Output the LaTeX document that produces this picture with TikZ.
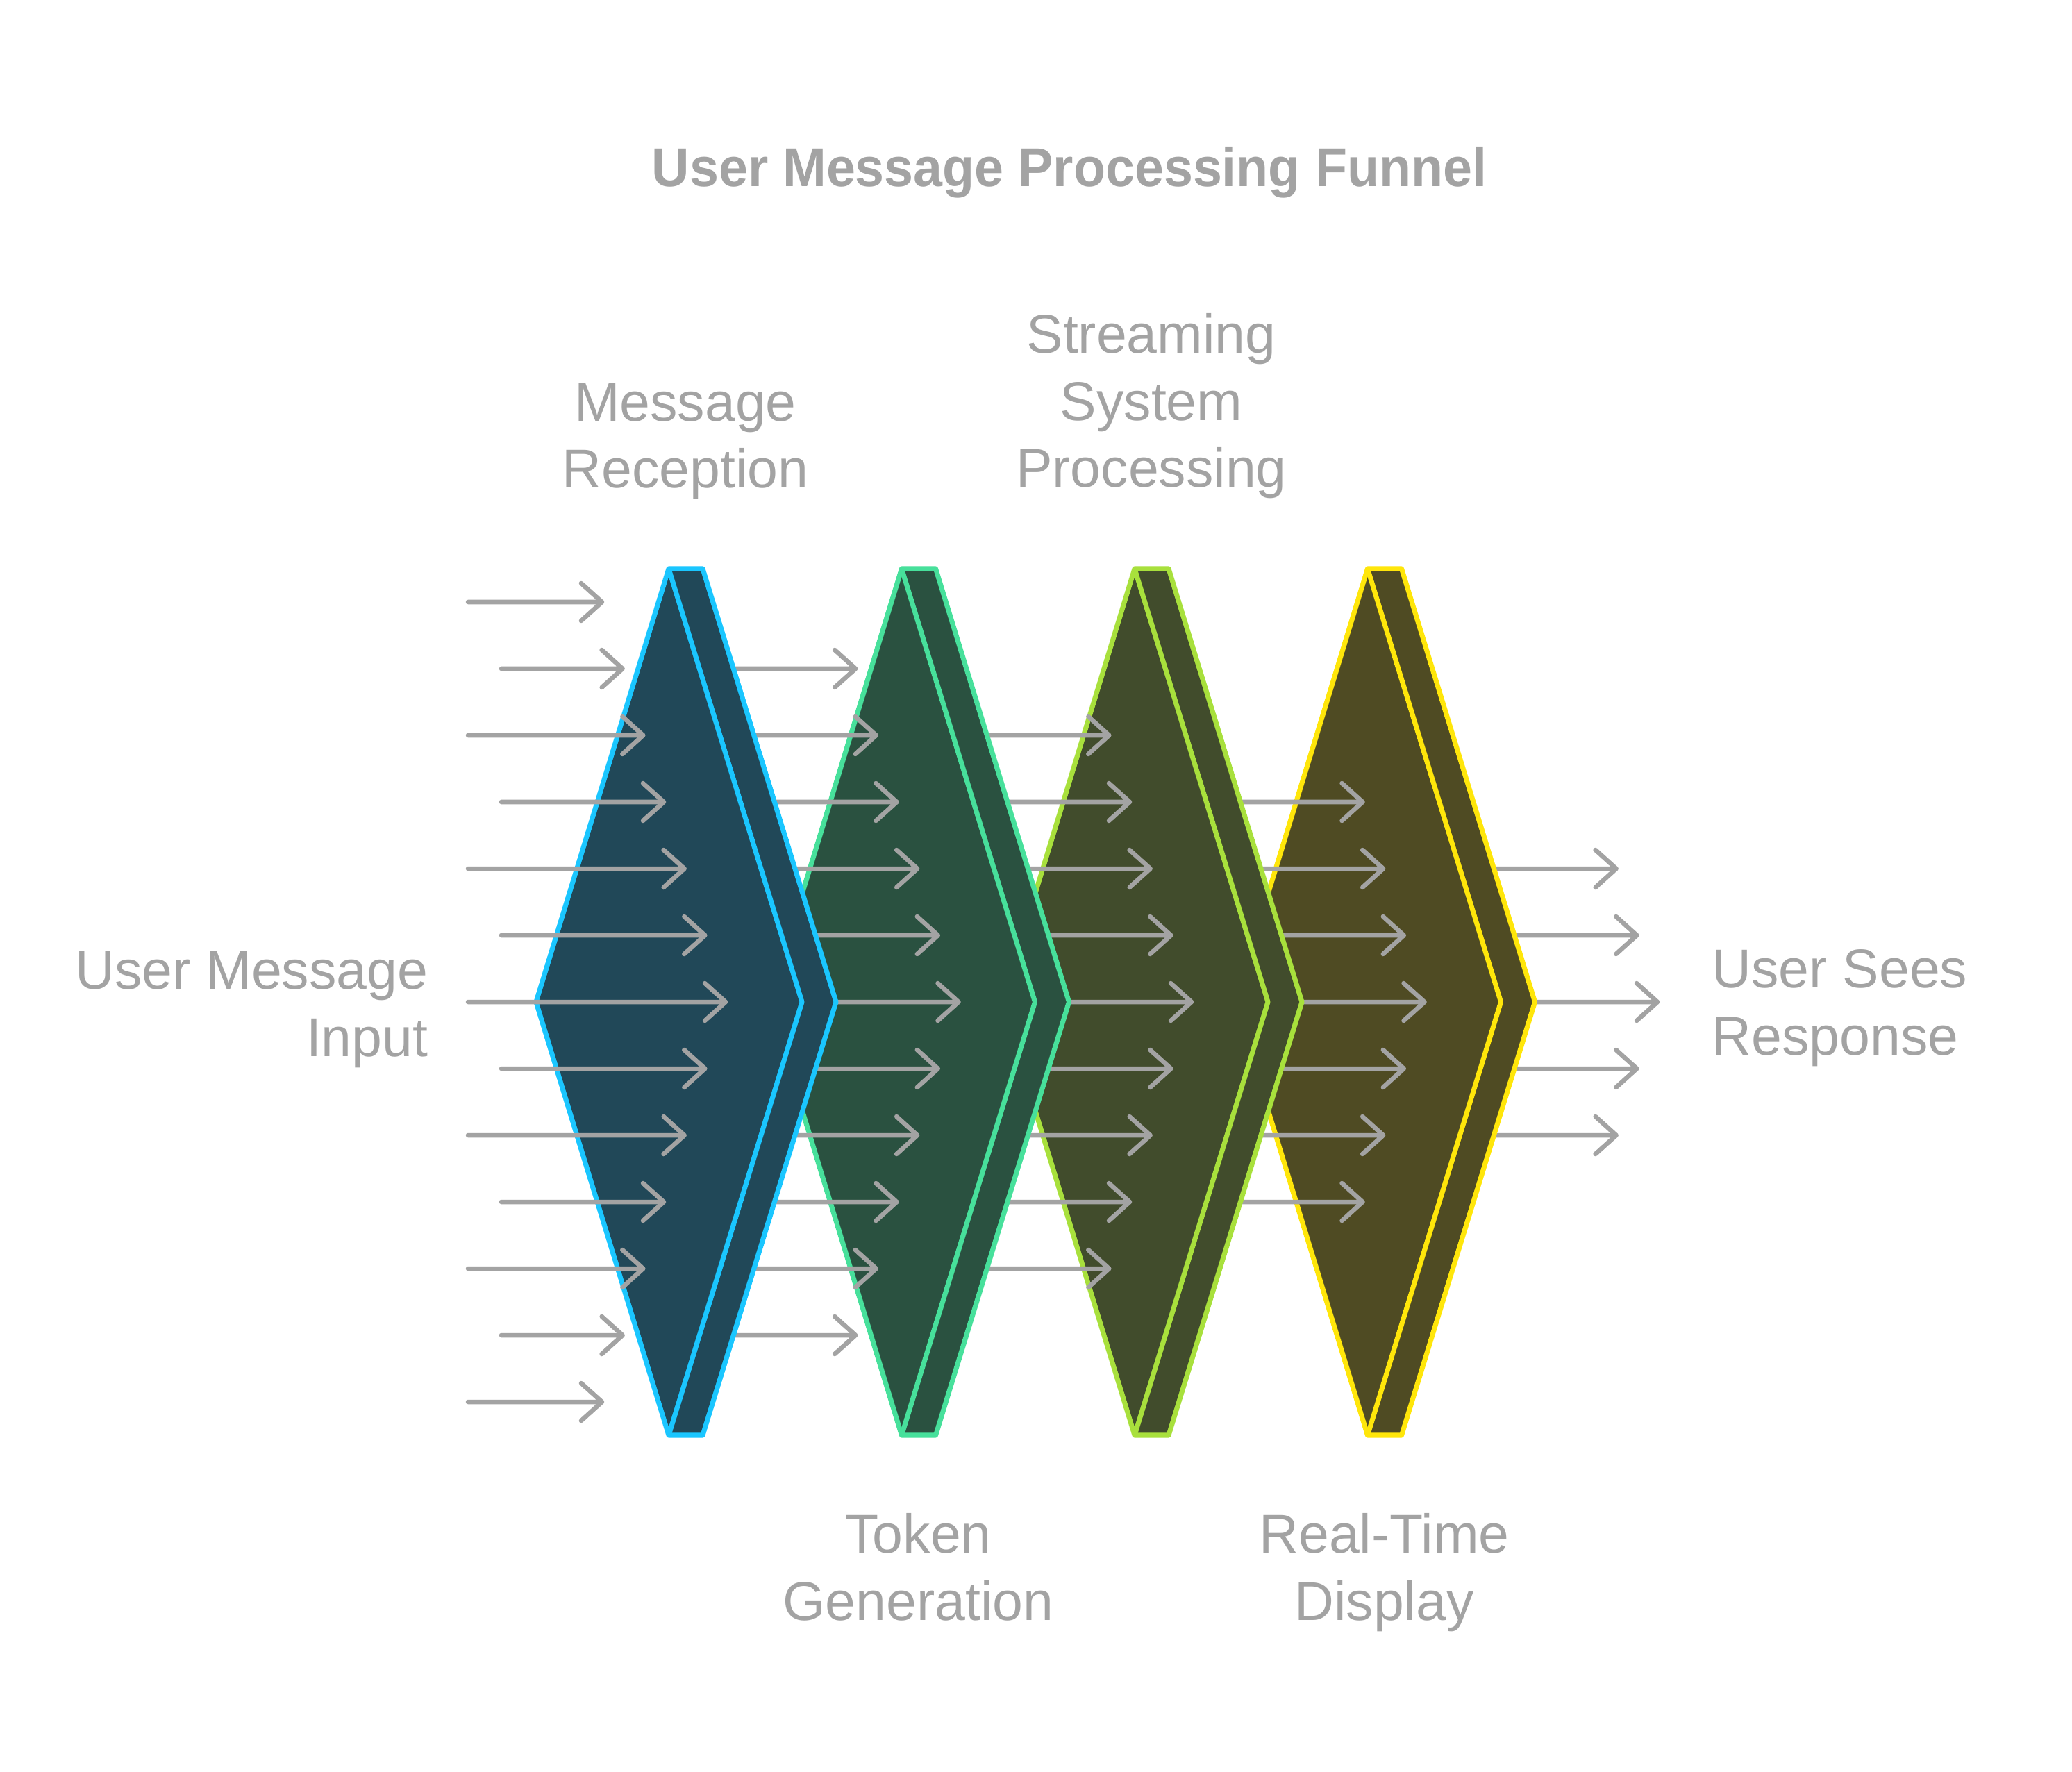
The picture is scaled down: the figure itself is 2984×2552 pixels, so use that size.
\documentclass[tikz,border=0pt]{standalone}
\usepackage{fontspec}
\setmainfont{Liberation Sans}
\usepackage{graphicx}
\definecolor{txt}{HTML}{A3A3A3}
\definecolor{fillA}{HTML}{214858}
\definecolor{lineA}{HTML}{1AC6FF}
\definecolor{fillB}{HTML}{2A5140}
\definecolor{lineB}{HTML}{47E09B}
\definecolor{fillC}{HTML}{414C2C}
\definecolor{lineC}{HTML}{A8E03C}
\definecolor{fillD}{HTML}{4F4B23}
\definecolor{lineD}{HTML}{FFE60A}
\newcommand\flowarrow[3]{%
  \draw[flow] (#1,#3) -- (#2,#3) (#2-30,#3-27) -- (#2,#3) -- (#2-30,#3+27);}
\newcommand\funnelshape[3]{%
  \draw[shapeline, fill=#2, draw=#3] (772+#1,1443) -- (963+#1,819) -- (1012+#1,819)
     -- (1204+#1,1443) -- (1012+#1,2067) -- (963+#1,2067) -- cycle;
  \draw[shapeline, draw=#3] (963+#1,819) -- (1155+#1,1443) -- (963+#1,2067);}
\newcommand\flowcolumn[3]{% column index, start x (or -1 for alternating), max |k|
  \foreach \k in {-#3,...,#3} {
    \pgfmathsetmacro\yy{1443+96*\k}
    \pgfmathsetmacro\tip{1045+335.5*#1-29.67*abs(\k)}
    \pgfmathsetmacro\st{#2<0 ? (mod(abs(\k),2)==1 ? 722 : 674) : #2}
    \flowarrow{\st}{\tip}{\yy}
  }}
\begin{document}
\begin{tikzpicture}[x=0.01cm,y=-0.01cm,
  shapeline/.style={line width=2pt, line join=round},
  flow/.style={draw=txt, line width=1.85pt, line cap=round, line join=round},
  lbl/.style={text=txt, font=\fontsize{22.4}{27.5}\selectfont, inner sep=0pt}]
\useasboundingbox[fill=white] (0,0) rectangle (2984,2552);

\flowcolumn{4}{2006.5}{2}
\funnelshape{1006.5}{fillD}{lineD}
\flowcolumn{3}{1671}{3}
\funnelshape{671}{fillC}{lineC}
\flowcolumn{2}{1335.5}{4}
\funnelshape{335.5}{fillB}{lineB}
\flowcolumn{1}{1000}{5}
\funnelshape{0}{fillA}{lineA}
\flowcolumn{0}{-1}{6}

\node[text=txt, font=\bfseries\fontsize{22.4}{27}\selectfont, inner sep=0pt, anchor=base] (title) at (1540,269) {\scalebox{0.957}[1]{User Message Processing Funnel}};
\node[lbl, anchor=base, align=center] (reception) at (987,703) {Message\\Reception};
\node[lbl, anchor=base, align=center] (streaming) at (1658,702) {Streaming\\System\\Processing};
\node[lbl, anchor=base, align=center] (token) at (1322.5,2333) {Token\\Generation};
\node[lbl, anchor=base, align=center] (display) at (1993.5,2333) {Real-Time\\Display};
\node[lbl, anchor=base east, align=right] (input) at (617,1521) {User Message\\Input};
\node[lbl, anchor=base west, align=left] (output) at (2465,1519) {User Sees\\Response};
\end{tikzpicture}
\end{document}
